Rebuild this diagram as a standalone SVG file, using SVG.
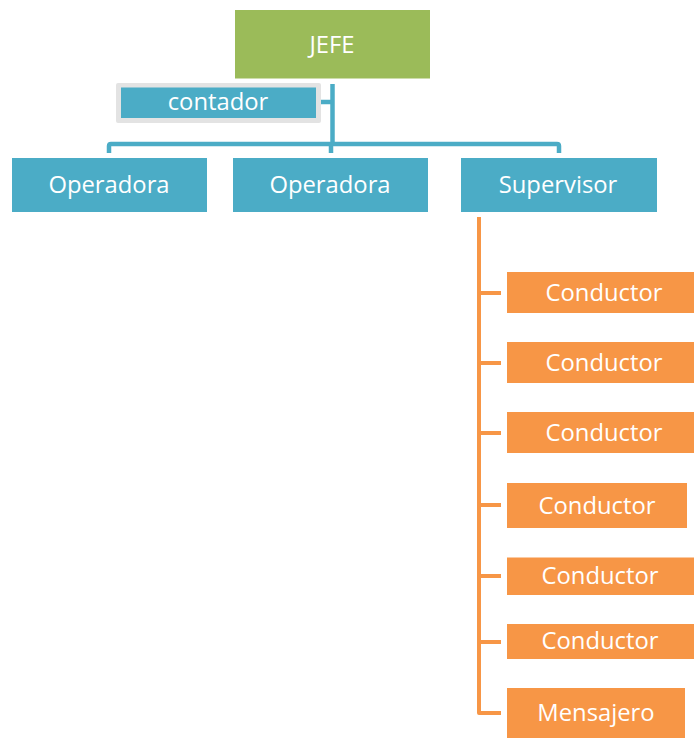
<svg xmlns="http://www.w3.org/2000/svg" width="694" height="738" viewBox="0 0 694 738">
<style>
.t{font-family:"Open Sans","Liberation Sans",sans-serif;font-size:23.8px;fill:#fff;text-anchor:middle;dominant-baseline:central}
.b{fill:#4BACC6}
.o{fill:#F79646}
.cb{fill:none;stroke:#4BACC6;stroke-width:4.5;stroke-linejoin:round}
.co{fill:none;stroke:#F79646;stroke-width:4;stroke-linejoin:round}
</style>
<rect width="694" height="738" fill="#fff"/>
<g id="connectors">
<path class="cb" d="M332.5 84 V145"/>
<path class="cb" d="M321 102 H332.5"/>
<path class="cb" d="M109 153 V146 Q109 144 111 144 H557 Q559 144 559 146 V153"/>
<path class="cb" d="M331 144 V153"/>
<path class="co" d="M479 217 V713 H501"/>
<path class="co" d="M479 293 H501 M479 363 H501 M479 433 H501 M479 505 H501 M479 576 H501 M479 642 H501"/>
</g>
<g id="jefe"><rect x="235" y="10" width="195" height="68.5" fill="#9BBB59"/><text class="t" x="332" y="44">JEFE</text></g>
<g id="contador"><rect x="116" y="83" width="205" height="40" rx="2" fill="#E3E3E3"/><rect x="121" y="87.5" width="195" height="30.5" class="b"/><text class="t" x="218" y="101">contador</text></g>
<g id="operadora1"><rect x="12" y="158" width="195" height="54" class="b"/><text class="t" x="109" y="184">Operadora</text></g>
<g id="operadora2"><rect x="233" y="158" width="195" height="54" class="b"/><text class="t" x="330" y="184">Operadora</text></g>
<g id="supervisor"><rect x="461" y="158" width="196" height="54" class="b"/><text class="t" x="558" y="184">Supervisor</text></g>
<g id="conductor1"><rect x="507" y="272" width="187" height="41" class="o"/><text class="t" x="604" y="292">Conductor</text></g>
<g id="conductor2"><rect x="507" y="342" width="187" height="41" class="o"/><text class="t" x="604" y="362">Conductor</text></g>
<g id="conductor3"><rect x="507" y="412" width="187" height="41" class="o"/><text class="t" x="604" y="432">Conductor</text></g>
<g id="conductor4"><rect x="507" y="483" width="180" height="45" class="o"/><text class="t" x="597" y="505">Conductor</text></g>
<g id="conductor5"><rect x="507" y="557.5" width="187" height="37.5" class="o"/><text class="t" x="600" y="575">Conductor</text></g>
<g id="conductor6"><rect x="507" y="624" width="187" height="35" class="o"/><text class="t" x="600" y="640">Conductor</text></g>
<g id="mensajero"><rect x="507" y="688" width="178" height="50" class="o"/><text class="t" x="596" y="712">Mensajero</text></g>
</svg>
